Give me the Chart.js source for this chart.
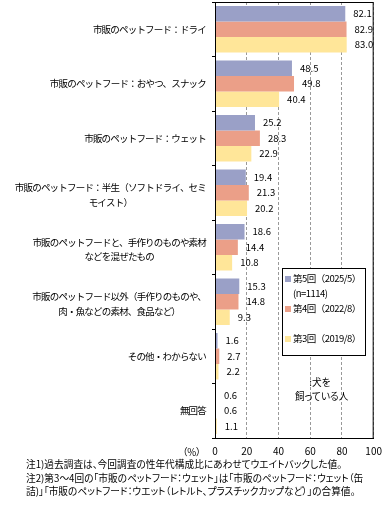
<!DOCTYPE html>
<html>
<head>
<meta charset="utf-8">
<script src="https://cdn.jsdelivr.net/npm/chart.js@4"></script>
<style>
  body { margin: 0; background: #fff; font-family: "Noto Sans CJK JP", sans-serif; }
  #wrap { position: relative; width: 389px; height: 506px; }
  .txt { position: absolute; font-size: 9.7px; color: #000; white-space: nowrap; font-feature-settings: "palt"; }
  #legend { position: absolute; left: 282px; top: 268px; width: 84px; height: 88px; border: 1px solid #000; background: #fff; font-size: 9.5px; line-height: 15px; padding-top: 2px; box-sizing: border-box; letter-spacing: -0.5px; }
  #legend .item { position: relative; padding-left: 10px; white-space: pre; }
  #legend .sw { position: absolute; left: 2px; top: 5px; width: 6px; height: 6px; }
</style>
</head>
<body>
<div id="wrap">
  <canvas id="chart" width="389" height="506"></canvas>
  <div id="legend"></div>
  <div class="txt" style="left:295px; top:375px; width:50px; text-align:center; line-height:14px;">:犬を<br>飼っている人</div>
  <div class="txt" style="left:160px; top:445px; width:41px; text-align:right;">（%）</div>
  <div class="txt" style="left:26px; top:458px; line-height:13.5px;">注1)過去調査は、今回調査の性年代構成比にあわせてウエイトバックした値。<br>注2)第3～4回の「市販のペットフード：ウェット」は「市販のペットフード：ウェット（缶<br>詰)」「市販のペットフード：ウエット（レトルト、プラスチックカップなど）」の合算値。</div>
</div>
<script>
// カテゴリ（複数行ラベル）
const categories = [
  ['市販のペットフード：ドライ'],
  ['市販のペットフード：おやつ、スナック'],
  ['市販のペットフード：ウェット'],
  ['市販のペットフード：半生（ソフトドライ、セミ', 'モイスト）'],
  ['市販のペットフードと、手作りのものや素材', 'などを混ぜたもの'],
  ['市販のペットフード以外（手作りのものや、', '肉・魚などの素材、食品など）'],
  ['その他・わからない'],
  ['無回答']
];

const seriesLabels = ['第5回（2025/5）\n(n=1114)', '第4回（2022/8）\n\u00a0', '第3回（2019/8）'];
const seriesColors = ['#9aa0c7', '#eb9f88', '#ffe699'];

const round5 = [82.1, 48.5, 25.2, 19.4, 18.6, 15.3, 1.6, 0.6];
const round4 = [82.9, 49.8, 28.3, 21.3, 14.4, 14.8, 2.7, 0.6];
const round3 = [83.0, 40.4, 22.9, 20.2, 10.8, 9.3, 2.2, 1.1];

const xTicks = [0, 20, 40, 60, 80, 100];

const FONT = '"Noto Sans CJK JP", sans-serif';

// 枠線（上・右）
const framePlugin = {
  id: 'frame',
  afterDraw(chart) {
    const { ctx, chartArea: a } = chart;
    ctx.save();
    ctx.strokeStyle = '#000';
    ctx.lineWidth = 1;
    ctx.strokeRect(a.left + 0.5, a.top + 0.5, a.right - a.left - 1, a.bottom - a.top);
    ctx.restore();
  }
};

// Y軸ラベル：右揃え、2行目は1行目の中央に揃える
const yLabelPlugin = {
  id: 'yLabels',
  afterDraw(chart) {
    const { ctx, chartArea } = chart;
    const yScale = chart.scales.y;
    const right = chartArea.left - 9;
    const lineH = 14.5;
    ctx.save();
    ctx.font = '9.5px ' + FONT;
    ctx.letterSpacing = '-0.8px';
    ctx.fillStyle = '#000';
    ctx.textAlign = 'left';
    ctx.textBaseline = 'middle';
    categories.forEach((lines, i) => {
      const y = yScale.getPixelForTick(i);
      const widths = lines.map(l => ctx.measureText(l).width);
      const widest = Math.max(...widths);
      const y0 = y - (lines.length - 1) * lineH / 2 + (lines.length > 1 ? 2 : 0);
      lines.forEach((l, k) => ctx.fillText(l, right - widest + (widest - widths[k]) / 2, y0 + k * lineH));
    });
    ctx.restore();
  }
};

// 値ラベル
const valuePlugin = {
  id: 'values',
  afterDatasetsDraw(chart) {
    const { ctx } = chart;
    ctx.save();
    ctx.font = '9.5px ' + FONT;
    ctx.fillStyle = '#000';
    ctx.textAlign = 'left';
    ctx.textBaseline = 'middle';
    chart.data.datasets.forEach((ds, di) => {
      chart.getDatasetMeta(di).data.forEach((bar, i) => {
        ctx.fillText(ds.data[i].toFixed(1), bar.x + 8, bar.y);
      });
    });
    ctx.restore();
  }
};

const chart = new Chart(document.getElementById('chart'), {
  type: 'bar',
  data: {
    labels: categories.map(c => c.join('')),
    datasets: [round5, round4, round3].map((d, i) => ({
      label: seriesLabels[i],
      data: d,
      backgroundColor: seriesColors[i],
      borderWidth: 0,
      categoryPercentage: 0.857,
      barPercentage: 1.0
    }))
  },
  options: {
    indexAxis: 'y',
    responsive: false,
    animation: false,
    layout: { padding: { top: 2, right: 11, bottom: 46, left: 0 } },
    plugins: { legend: { display: false }, tooltip: { enabled: false } },
    scales: {
      x: {
        min: 0,
        max: 100,
        afterBuildTicks(scale) { scale.ticks = xTicks.map(v => ({ value: v })); },
        afterFit(scale) { scale.height = 22; },
        ticks: { color: '#000', font: { family: FONT, size: 10 }, padding: 7, maxRotation: 0 },
        grid: { color: '#999', drawTicks: false },
        border: { color: '#000', dash: [3, 2] }
      },
      y: {
        afterFit(scale) { scale.width = 215; },
        ticks: { display: false },
        grid: { drawOnChartArea: false, drawTicks: true, tickLength: 3, color: '#000', offset: true },
        border: { color: '#000' }
      }
    }
  },
  plugins: [framePlugin, yLabelPlugin, valuePlugin]
});

// 凡例（HTML）
const legend = document.getElementById('legend');
chart.data.datasets.forEach(ds => {
  const item = document.createElement('div');
  item.className = 'item';
  item.textContent = ds.label;
  const sw = document.createElement('span');
  sw.className = 'sw';
  sw.style.background = ds.backgroundColor;
  item.appendChild(sw);
  legend.appendChild(item);
});
</script>
</body>
</html>
